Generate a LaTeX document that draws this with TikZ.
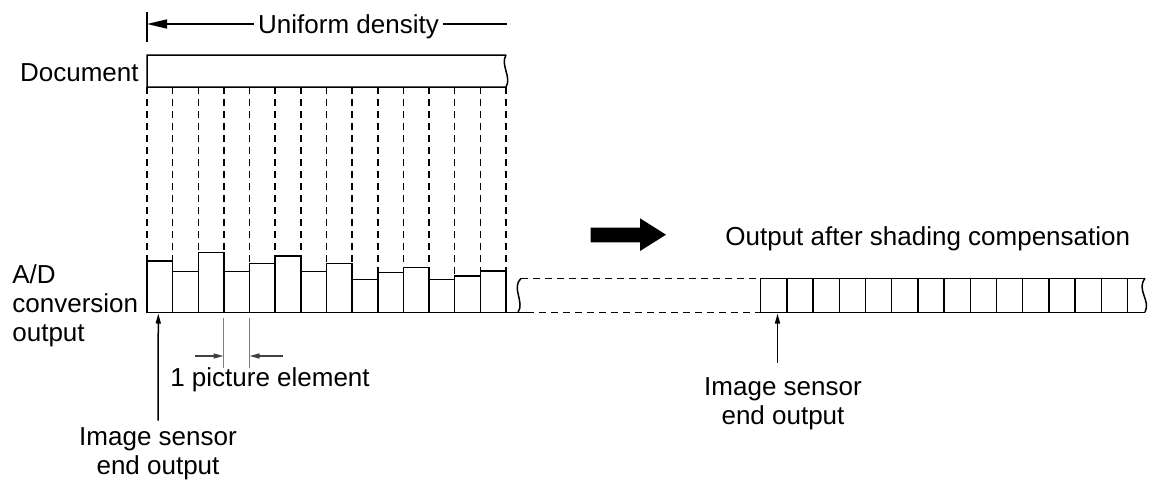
\documentclass[tikz,border=0pt]{standalone}
\usepackage{fontspec}
\setmainfont{Liberation Sans}
\usetikzlibrary{positioning}
\usetikzlibrary{arrows.meta}

\begin{document}
\begin{tikzpicture}
          [
          x=0.5pt, y=-0.5pt,
          font=\fontsize{13}{14.5}\selectfont,
          Line/.style={line width=0.75pt},
          Dash/.style={line width=0.75pt, dash pattern=on 3.5pt off 2.5pt},
          Cell/.style={draw, fill=white, line width=0.75pt},
          Label/.style={inner sep=0pt, anchor=base, align=center},
          Big/.style={-{Triangle[length=10pt, width=4.5pt]}, line width=0.75pt},
          Small/.style={-{Triangle[length=5pt, width=2.5pt]}, line width=0.75pt},
          ]
          \useasboundingbox (0,0) rectangle (1151,482);

          % Nodes (base = baseline of the last line)
          \node[Label, inner xsep=2pt] (Unif) at (348.5,33.3) {Uniform density};
          \node[Label, anchor=base east] (Doc) at (139,81.7) {Document};
          \node[Label, anchor=base west, align=left] (AD) at (12,341) {A/D\\conversion\\output};
          \node[Label] (Pix) at (270,386) {1 picture element};
          \node[Label] (SensL) at (158,474) {Image sensor\\end output};
          \node[Label] (SensR) at (783,424) {Image sensor\\end output};
          \node[Label, anchor=base west] (Comp) at (725,245) {Output after shading compensation};

          \coordinate (ULeft) at (147,24);
          \coordinate (URight) at (506.5,24);
          \coordinate (PixL) at (223.5,356);
          \coordinate (PixR) at (249.5,356);
          \coordinate (LTip) at (158.3,313.5);
          \coordinate (RTip) at (777.5,313.5);

          % Uniform density
          \draw[Line] (147,12) -- (147,42);
          \draw[Big] (Unif.west |- ULeft) -- (ULeft);
          \draw[Line] (Unif.east |- URight) -- (URight);

          % Document
          \draw[Line] (506,55) -- (147,55) -- (147,87) -- (506,87)
                .. controls (512,77) and (500,65) .. (506,55);
          \foreach \i in {0,...,14}
                \draw[Dash] ({147+\i*25.64},87) -- ({147+\i*25.64},312);

          % A/D output
          \foreach \h [count=\i from 0] in {261,271.7,252.3,271.7,263.3,256,271.7,263.3,279.3,272.7,267.7,279.3,276,271}
                \draw[Cell] ({147+\i*25.64},312.3) rectangle ({147+(\i+1)*25.64},\h);
          \draw[Line] (147,312.3) -- (527,312.3);
          \draw[Line] (521,278.3) .. controls (511,288) and (525,302) .. (518,312.3);
          \draw[Dash] (521,278.3) -- (760.7,278.3);
          \draw[Dash] (527,312.3) -- (760.7,312.3);

          % Output after compensation
          \draw[Line] (1145,278.3) -- (760.7,278.3) -- (760.7,312.3) -- (1145,312.3);
          \draw[Line] (1145,278.3) .. controls (1136,290) and (1151,300) .. (1145,312.3);
          \foreach \i in {1,...,14}
                \draw[Line] ({760.7+\i*26.2},278.3) -- ({760.7+\i*26.2},312.3);
          \fill (590.7,227.7) -- (640,227.7) -- (640,218.3) -- (666,234.7)
                -- (640,251) -- (640,242.3) -- (590.7,242.3) -- cycle;

          % Lines
          \draw[Line, gray] (PixL |- 0,318) -- (PixL |- 0,368);
          \draw[Line, gray] (PixR |- 0,318) -- (PixR |- 0,368);
          \draw[Small, black!75] (PixL -| 195,0) -- (PixL);
          \draw[Small, black!75] (PixR -| 283,0) -- (PixR);
          \draw[Small, shorten <=3pt] (SensL.north) -- (LTip);
          \draw[Small, shorten <=7pt] (RTip |- SensR.north) -- (RTip);

\end{tikzpicture}
\end{document}
